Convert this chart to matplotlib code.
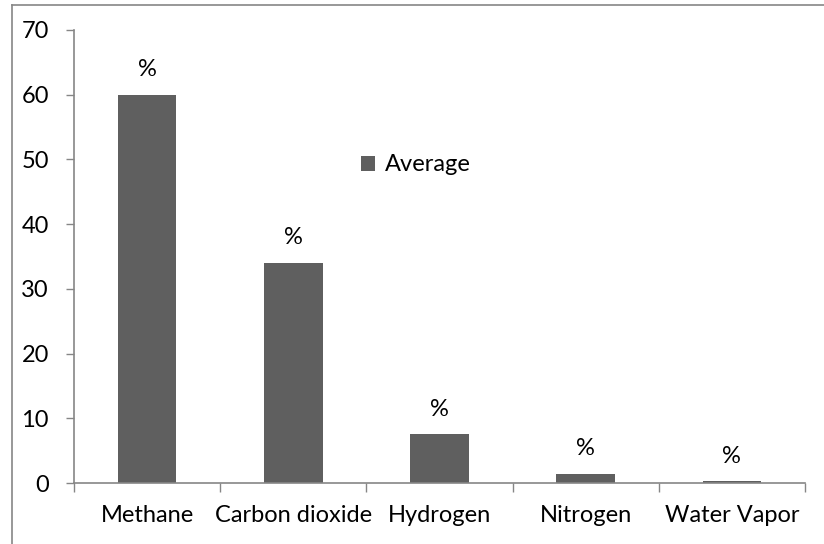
import matplotlib.pyplot as plt
from matplotlib.lines import Line2D

# datos del grafico
gases = ["Methane", "Carbon dioxide", "Hydrogen", "Nitrogen", "Water Vapor"]
promedio = [60, 34, 7.5, 1.4, 0.3]
etiquetas = ["%", "%", "%", "%", "%"]
serie = "Average"

plt.rcParams['font.family'] = ['Lato', 'DejaVu Sans']

color_barra = '#5f5f5f'
color_eje = '#868686'
tam = 17

fig = plt.figure(figsize=(8.24, 5.44), dpi=100)
ax = fig.add_axes([74/824, 1 - 483/544, 731/824, 453/544])

x = list(range(len(gases)))
barras = ax.bar(x, promedio, width=0.4, color=color_barra, label=serie, zorder=2)

for xi, v, t in zip(x, promedio, etiquetas):
    ax.annotate(t, (xi, v), xytext=(0, 18), textcoords='offset points',
                ha='center', va='center', fontsize=tam, color='black')

ax.set_xlim(-0.5, len(gases) - 0.5)
ax.set_ylim(0, 70)
ax.set_yticks(range(0, 71, 10))

# marcas del eje x entre categorias
ax.set_xticks([i - 0.5 for i in range(len(gases) + 1)])
ax.set_xticklabels([])
ax.set_xticks(x, minor=True)
ax.set_xticklabels(gases, minor=True, fontsize=tam)
ax.tick_params(axis='x', which='minor', length=0, pad=16)
ax.tick_params(axis='x', which='major', length=6.5, width=1, color=color_eje, direction='out')
ax.tick_params(axis='y', length=6, width=1, color=color_eje, labelsize=tam, pad=12)

for lado in ['top', 'right']:
    ax.spines[lado].set_visible(False)
for lado in ['left', 'bottom']:
    ax.spines[lado].set_color(color_eje)
    ax.spines[lado].set_linewidth(1.2)

ax.legend(loc='center left', bbox_to_anchor=(0.393, 0.702), frameon=False,
          fontsize=tam, handlelength=0.6, handleheight=0.6, handletextpad=0.42,
          borderpad=0, borderaxespad=0)

# marco exterior del grafico
fig.add_artist(Line2D([12/824, 12/824], [0, 1 - 5/544], color=color_eje, lw=1.2,
                      transform=fig.transFigure))
fig.add_artist(Line2D([12/824, 1], [1 - 5/544, 1 - 5/544], color=color_eje, lw=1.2,
                      transform=fig.transFigure))

fig.savefig('out.png', dpi=100)
